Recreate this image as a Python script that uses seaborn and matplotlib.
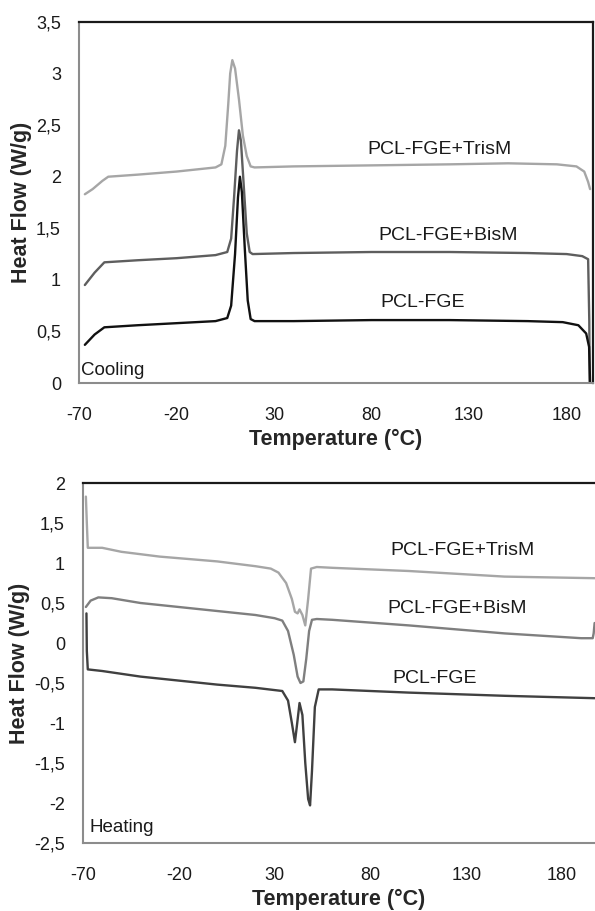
import seaborn as sns
import matplotlib.pyplot as plt
from matplotlib.ticker import FuncFormatter, MultipleLocator

sns.set_style("white")
plt.rcParams['font.family'] = ['Liberation Sans', 'DejaVu Sans']
plt.rcParams['axes.unicode_minus'] = False

# ---- Cooling (top panel) ----
cool_tris_T = [-67, -63, -58, -55, -40, -20, 0, 3, 5, 6.5, 7.5, 8.6, 10, 12, 14, 16, 18, 20,
               40, 80, 120, 150, 175, 185, 189, 191, 192]
cool_tris_Y = [1.83, 1.88, 1.96, 2.00, 2.02, 2.05, 2.09, 2.12, 2.3, 2.7, 3.0, 3.13, 3.05, 2.75,
               2.4, 2.2, 2.1, 2.09, 2.10, 2.11, 2.12, 2.13, 2.12, 2.10, 2.05, 1.95, 1.88]

cool_bis_T = [-67, -62, -57, -40, -20, 0, 6, 8, 9.5, 11, 12, 13, 14.5, 16, 17.5, 19,
              40, 80, 120, 160, 180, 188, 191, 191.6, 191.8]
cool_bis_Y = [0.95, 1.07, 1.17, 1.19, 1.21, 1.24, 1.27, 1.4, 1.8, 2.25, 2.45, 2.35, 1.9, 1.45,
              1.27, 1.25, 1.26, 1.27, 1.27, 1.26, 1.25, 1.23, 1.2, 0.6, 0.0]

cool_pcl_T = [-67, -62, -57, -40, -20, 0, 6, 8, 10, 11.5, 12.5, 13.5, 15, 16.5, 18, 20,
              40, 80, 120, 160, 178, 186, 190, 191.5, 192]
cool_pcl_Y = [0.37, 0.47, 0.54, 0.56, 0.58, 0.6, 0.63, 0.75, 1.25, 1.8, 2.0, 1.85, 1.3, 0.8,
              0.62, 0.6, 0.6, 0.61, 0.61, 0.6, 0.59, 0.56, 0.48, 0.35, 0.0]

# ---- Heating (bottom panel) ----
heat_tris_T = [-68.5, -68, -67.5, -60, -50, -30, 0, 20, 28, 32, 36, 39, 40.6, 42, 43, 44.5,
               46, 47.5, 49, 52, 60, 100, 150, 197]
heat_tris_Y = [1.83, 1.5, 1.19, 1.19, 1.14, 1.08, 1.02, 0.96, 0.93, 0.88, 0.75, 0.55, 0.39,
               0.37, 0.42, 0.35, 0.22, 0.55, 0.93, 0.95, 0.94, 0.90, 0.83, 0.81]

heat_bis_T = [-68.5, -66, -62, -55, -40, -20, 0, 20, 30, 34, 37, 40, 42, 43.5, 45, 46.5, 48,
              49.5, 52, 60, 100, 150, 190, 196, 196.5, 197]
heat_bis_Y = [0.45, 0.53, 0.57, 0.56, 0.50, 0.45, 0.40, 0.35, 0.31, 0.28, 0.15, -0.15, -0.42,
              -0.5, -0.48, -0.2, 0.15, 0.29, 0.30, 0.29, 0.22, 0.12, 0.06, 0.06, 0.12, 0.25]

heat_pcl_T = [-68.2, -68, -67.5, -60, -40, -20, 0, 20, 34, 37, 39, 40.6, 41.8, 43, 44.5, 46,
              47.5, 48.5, 49.5, 51, 53, 60, 100, 150, 197]
heat_pcl_Y = [0.37, -0.1, -0.33, -0.35, -0.42, -0.47, -0.52, -0.56, -0.6, -0.72, -1.0, -1.24,
              -1.0, -0.75, -0.9, -1.5, -1.95, -2.03, -1.6, -0.8, -0.58, -0.58, -0.62, -0.66, -0.69]

x_ticks = [-70, -20, 30, 80, 130, 180]
comma = FuncFormatter(lambda v, p: f"{v:g}".replace('.', ','))

W, H = 595, 911
fig = plt.figure(figsize=(W / 100, H / 100), dpi=100)
ax1 = fig.add_axes([79 / W, 1 - 383 / H, (593 - 79) / W, (383 - 22) / H])
ax2 = fig.add_axes([83 / W, 1 - 843 / H, (595 - 83) / W, (843 - 483) / H])

spine_grey = '#8c8c8c'
txt = '#1a1a1a'


def style(ax, ylim, xlim, right_spine):
    ax.set_xlim(*xlim)
    ax.set_ylim(*ylim)
    ax.set_xticks(x_ticks)
    ax.yaxis.set_major_locator(MultipleLocator(0.5))
    ax.yaxis.set_major_formatter(comma)
    for s in ['left', 'bottom']:
        ax.spines[s].set_color(spine_grey)
        ax.spines[s].set_linewidth(1.5)
    ax.spines['top'].set_color(txt)
    ax.spines['top'].set_linewidth(1.6)
    ax.spines['right'].set_visible(right_spine)
    ax.spines['right'].set_color(txt)
    ax.spines['right'].set_linewidth(1.6)
    ax.tick_params(axis='both', direction='out', length=5, width=1.3, color=spine_grey,
                   labelsize=13, labelcolor=txt)
    ax.tick_params(axis='x', length=6, pad=11)
    ax.tick_params(axis='y', pad=8)
    ax.set_xlabel('Temperature (°C)', fontsize=15.5, fontweight='bold', labelpad=4)
    ax.set_ylabel('Heat Flow (W/g)', fontsize=15.5, fontweight='bold', labelpad=3)


lw = 1.7
sns.lineplot(x=cool_tris_T, y=cool_tris_Y, sort=False, estimator=None, color='#a6a6a6', lw=lw, ax=ax1)
sns.lineplot(x=cool_bis_T, y=cool_bis_Y, sort=False, estimator=None, color='#5e5e5e', lw=lw, ax=ax1)
sns.lineplot(x=cool_pcl_T, y=cool_pcl_Y, sort=False, estimator=None, color='#111111', lw=lw, ax=ax1)
style(ax1, (0, 3.5), (-70, 193.5), True)
ax1.text(77.7, 2.26, 'PCL-FGE+TrisM', fontsize=14, va='center', ha='left', color=txt)
ax1.text(83.4, 1.43, 'PCL-FGE+BisM', fontsize=14, va='center', ha='left', color=txt)
ax1.text(84.4, 0.78, 'PCL-FGE', fontsize=14, va='center', ha='left', color=txt)
ax1.text(-68.8, 0.12, 'Cooling', fontsize=13.5, va='center', ha='left', color=txt)

sns.lineplot(x=heat_tris_T, y=heat_tris_Y, sort=False, estimator=None, color='#a6a6a6', lw=lw, ax=ax2)
sns.lineplot(x=heat_bis_T, y=heat_bis_Y, sort=False, estimator=None, color='#7f7f7f', lw=lw, ax=ax2)
sns.lineplot(x=heat_pcl_T, y=heat_pcl_Y, sort=False, estimator=None, color='#404040', lw=lw, ax=ax2)
style(ax2, (-2.5, 2), (-70, 197.2), False)
ax2.text(90.2, 1.16, 'PCL-FGE+TrisM', fontsize=14, va='center', ha='left', color=txt)
ax2.text(88.7, 0.43, 'PCL-FGE+BisM', fontsize=14, va='center', ha='left', color=txt)
ax2.text(91.3, -0.44, 'PCL-FGE', fontsize=14, va='center', ha='left', color=txt)
ax2.text(-66.5, -2.31, 'Heating', fontsize=13.5, va='center', ha='left', color=txt)

fig.savefig('out.png', dpi=100)
